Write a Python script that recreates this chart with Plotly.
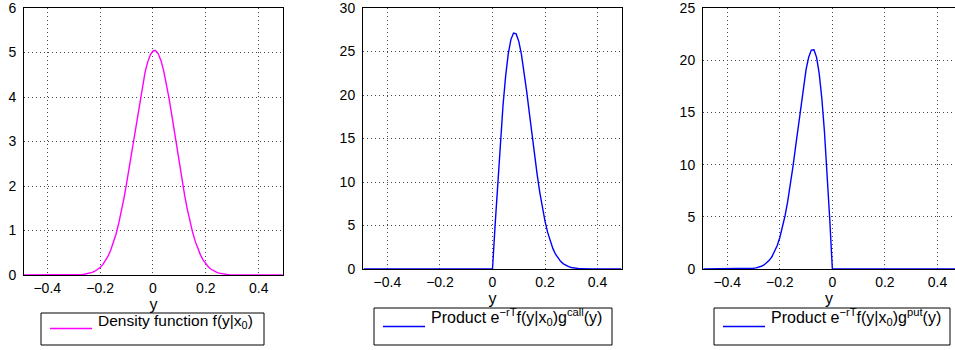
import plotly.graph_objects as go

# Grid of y values (log-return) at which the curves are sampled
y_grid = [-0.49,
          -0.36, -0.35, -0.34, -0.33, -0.32, -0.31, -0.30, -0.29, -0.28, -0.27,
          -0.26, -0.25, -0.24, -0.23, -0.22, -0.21, -0.20, -0.19, -0.18, -0.17,
          -0.16, -0.15, -0.14, -0.13, -0.12, -0.11, -0.10, -0.09, -0.08, -0.07,
          -0.06, -0.05, -0.04, -0.03, -0.02, -0.01, 0.00, 0.01, 0.02, 0.03,
          0.04, 0.05, 0.06, 0.07, 0.08, 0.09, 0.10, 0.11, 0.12, 0.13,
          0.14, 0.15, 0.16, 0.17, 0.18, 0.19, 0.20, 0.21, 0.22, 0.23,
          0.24, 0.25, 0.26, 0.27, 0.28, 0.29, 0.30, 0.31, 0.32, 0.33,
          0.34, 0.35, 0.36, 0.37, 0.38,
          0.49]

# Transition density f(y|x0)
density = [0.0,
           0.000, 0.000, 0.000, 0.001, 0.001, 0.002, 0.003, 0.005, 0.007, 0.011,
           0.017, 0.026, 0.040, 0.058, 0.084, 0.120, 0.169, 0.233, 0.316, 0.422,
           0.555, 0.719, 0.915, 1.147, 1.415, 1.718, 2.053, 2.413, 2.792, 3.179,
           3.562, 3.928, 4.262, 4.552, 4.784, 4.947, 5.035, 5.043, 4.971, 4.822,
           4.603, 4.324, 3.998, 3.637, 3.257, 2.869, 2.488, 2.123, 1.783, 1.473,
           1.198, 0.959, 0.755, 0.585, 0.447, 0.335, 0.248, 0.180, 0.129, 0.091,
           0.063, 0.043, 0.029, 0.019, 0.012, 0.008, 0.005, 0.003, 0.002, 0.001,
           0.001, 0.000, 0.000, 0.000, 0.000,
           0.0]

# Discounted density times call payoff
call_product = [0.0,
                0.00, 0.00, 0.00, 0.00, 0.00, 0.00, 0.00, 0.00, 0.00, 0.00,
                0.00, 0.00, 0.00, 0.00, 0.00, 0.00, 0.00, 0.00, 0.00, 0.00,
                0.00, 0.00, 0.00, 0.00, 0.00, 0.00, 0.00, 0.00, 0.00, 0.00,
                0.00, 0.00, 0.00, 0.00, 0.00, 0.00, 0.00, 5.07, 10.04, 14.69,
                18.79, 22.17, 24.72, 26.37, 27.12, 27.02, 26.17, 24.69, 22.73, 20.45,
                18.01, 15.52, 13.11, 10.85, 8.81, 7.01, 5.48, 4.21, 3.17, 2.34,
                1.70, 1.22, 0.85, 0.59, 0.40, 0.27, 0.17, 0.11, 0.07, 0.04,
                0.03, 0.02, 0.01, 0.01, 0.00,
                0.0]

# Discounted density times put payoff
put_product = [0.0,
               0.00, 0.01, 0.01, 0.02, 0.03, 0.04, 0.07, 0.11, 0.17, 0.26,
               0.39, 0.57, 0.83, 1.17, 1.63, 2.22, 2.99, 3.93, 5.08, 6.45,
               8.02, 9.78, 11.68, 13.67, 15.64, 17.49, 19.09, 20.29, 20.97, 21.00,
               20.27, 18.72, 16.33, 13.14, 9.25, 4.81, 0.00, 0.00, 0.00, 0.00,
               0.00, 0.00, 0.00, 0.00, 0.00, 0.00, 0.00, 0.00, 0.00, 0.00,
               0.00, 0.00, 0.00, 0.00, 0.00, 0.00, 0.00, 0.00, 0.00, 0.00,
               0.00, 0.00, 0.00, 0.00, 0.00, 0.00, 0.00, 0.00, 0.00, 0.00,
               0.00, 0.00, 0.00, 0.00, 0.00,
               0.0]

x_ticks = [-0.4, -0.2, 0, 0.2, 0.4]
legend_texts = [
    "Density function f(y|x<sub>0</sub>)",
    "Product e<sup>\u2212rT</sup>f(y|x<sub>0</sub>)g<sup>call</sup>(y)",
    "Product e<sup>\u2212rT</sup>f(y|x<sub>0</sub>)g<sup>put</sup>(y)",
]

W, H = 955, 350
MAGENTA = "#ff00ff"
BLUE = "#0000ff"
FONT = "Liberation Sans, Arial, sans-serif"


def px_x(v):
    return v / W


def px_y(v):
    return 1 - v / H


# panel geometry in pixels: left, right, top, bottom
panels = [
    dict(l=24, r=283, t=8, b=275, xr=[-0.488, 0.492], yr=[0, 6], dy=1,
         color=MAGENTA, data=density, right_line=True,
         box=(41, 264, 313, 345), sample=(50, 92, 328.5),
         text_x=96, text_y=321, text_size=15.5),
    dict(l=363, r=622, t=8, b=269, xr=[-0.493, 0.493], yr=[0, 30], dy=5,
         color=BLUE, data=call_product, right_line=True,
         box=(374, 612, 308, 345), sample=(383, 425, 326.5),
         text_x=429, text_y=317, text_size=16),
    dict(l=703, r=W, t=8, b=269, xr=[-0.492, 0.4665], yr=[0, 25], dy=5,
         color=BLUE, data=put_product, right_line=False,
         box=(714, 950, 308, 345), sample=(723, 765, 326.5),
         text_x=769, text_y=317, text_size=16),
]

fig = go.Figure()
shapes = []
annotations = []

for i, p in enumerate(panels, start=1):
    xa = "x" if i == 1 else f"x{i}"
    ya = "y" if i == 1 else f"y{i}"
    fig.add_trace(go.Scatter(
        x=y_grid, y=p["data"], mode="lines",
        line=dict(color=p["color"], width=1.4),
        xaxis=xa, yaxis=ya, showlegend=False, hoverinfo="skip",
    ))
    axis_common = dict(
        showgrid=True, gridcolor="#444444", griddash="1px,3px", gridwidth=1,
        zeroline=False, showline=True, linecolor="black", linewidth=1,
        ticks="", tickfont=dict(family=FONT, size=14, color="black"),
        layer="below traces", automargin=False, ticklabeloverflow="allow",
    )
    xkey = "xaxis" if i == 1 else f"xaxis{i}"
    ykey = "yaxis" if i == 1 else f"yaxis{i}"
    fig.update_layout({
        xkey: dict(axis_common, domain=[px_x(p["l"]), min(1.0, px_x(p["r"]))],
                   range=p["xr"], tickvals=x_ticks, mirror=True, anchor=ya,
                   title=dict(text="y", font=dict(family=FONT, size=16, color="black"),
                              standoff=2)),
        ykey: dict(axis_common, domain=[px_y(p["b"]), px_y(p["t"])],
                   range=p["yr"], dtick=p["dy"], tick0=0,
                   mirror=p["right_line"], anchor=xa, ticklabelstandoff=4),
    })

    # legend box with sample line and label
    bx0, bx1, by0, by1 = p["box"]
    shapes.append(dict(type="rect", xref="paper", yref="paper",
                       x0=px_x(bx0), x1=px_x(bx1), y0=px_y(by1), y1=px_y(by0),
                       line=dict(color="black", width=1), fillcolor="white"))
    sx0, sx1, sy = p["sample"]
    shapes.append(dict(type="line", xref="paper", yref="paper",
                       x0=px_x(sx0), x1=px_x(sx1), y0=px_y(sy), y1=px_y(sy),
                       line=dict(color=p["color"], width=1.3)))
    annotations.append(dict(
        text=legend_texts[i - 1], xref="paper", yref="paper",
        x=px_x(p["text_x"]), y=px_y(p["text_y"]), xanchor="left", yanchor="middle",
        showarrow=False, font=dict(family=FONT, size=p["text_size"], color="black"),
    ))

fig.update_layout(
    width=W, height=H, autosize=False,
    margin=dict(l=0, r=0, t=0, b=0, pad=0),
    paper_bgcolor="white", plot_bgcolor="white",
    shapes=shapes, annotations=annotations,
    showlegend=False,
)

fig.write_html("out.html", config={"displayModeBar": False})
